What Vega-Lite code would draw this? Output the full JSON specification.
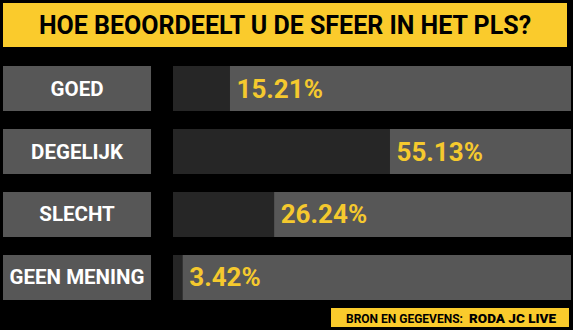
{
  "$schema": "https://vega.github.io/schema/vega-lite/v6.json",
  "background": "#000000",
  "padding": {"left": 3, "top": 3, "right": 2, "bottom": 3},
  "config": {"view": {"stroke": null}},
  "datasets": {
    "poll": [
      {"antwoord": "GOED", "aandeel": 0.1521},
      {"antwoord": "DEGELIJK", "aandeel": 0.5513},
      {"antwoord": "SLECHT", "aandeel": 0.2624},
      {"antwoord": "GEEN MENING", "aandeel": 0.0342}
    ],
    "kop": [{"titel": "HOE BEOORDEELT U DE SFEER IN HET PLS?"}],
    "bron": [{"bron": "BRON EN GEGEVENS:", "naam": "RODA JC LIVE"}]
  },
  "spacing": 8,
  "vconcat": [
    {
      "spacing": 19,
      "vconcat": [
        {
          "width": 564,
          "height": 44,
          "view": {"fill": "#FACB2C", "stroke": null},
          "data": {"name": "kop"},
          "mark": {"type": "text", "font": "Roboto", "fontSize": 25, "fontWeight": "bold", "color": "#000000", "align": "center", "baseline": "middle", "dy": 1},
          "encoding": {"text": {"field": "titel"}}
        },
        {
          "width": 568,
          "height": 234,
          "data": {"name": "poll"},
          "encoding": {
            "y": {"field": "antwoord", "type": "nominal", "sort": null, "axis": null, "scale": {"paddingInner": 0.2857, "paddingOuter": 0}}
          },
          "layer": [
            {
              "mark": {"type": "bar", "color": "#575757"},
              "encoding": {
                "x": {"datum": -0.4142, "type": "quantitative", "axis": null, "scale": {"domain": [-0.4142, 1.003], "nice": false, "zero": false}},
                "x2": {"datum": -0.0449}
              }
            },
            {
              "mark": {"type": "text", "font": "Roboto", "fontSize": 20.5, "fontWeight": "bold", "color": "#FFFFFF", "align": "center", "baseline": "middle", "dy": 1},
              "encoding": {
                "x": {"datum": -0.2295, "type": "quantitative"},
                "text": {"field": "antwoord"}
              }
            },
            {
              "mark": {"type": "bar", "color": "#575757"},
              "encoding": {
                "x": {"datum": 0.01, "type": "quantitative"},
                "x2": {"datum": 1.003}
              }
            },
            {
              "mark": {"type": "bar", "color": "#262626"},
              "encoding": {
                "x": {"field": "aandeel", "type": "quantitative"},
                "x2": {"datum": 0.01}
              }
            },
            {
              "mark": {"type": "text", "font": "Roboto", "fontSize": 26, "fontWeight": "bold", "color": "#F5C92E", "align": "left", "baseline": "middle", "dx": 6.5, "dy": 1},
              "encoding": {
                "x": {"field": "aandeel", "type": "quantitative"},
                "text": {"field": "aandeel", "type": "quantitative", "format": ".2%"}
              }
            }
          ]
        }
      ]
    },
    {
      "width": 568,
      "height": 19,
      "data": {"name": "bron"},
      "layer": [
        {
          "mark": {"type": "rect", "color": "#FACB2C"},
          "encoding": {
            "x": {"datum": 0.4042, "type": "quantitative", "axis": null, "scale": {"domain": [-0.4142, 1.003], "nice": false, "zero": false}},
            "x2": {"datum": 0.998}
          }
        },
        {
          "mark": {"type": "text", "font": "Roboto", "fontSize": 12, "fontWeight": "bold", "color": "#000000", "align": "left", "baseline": "middle", "dy": 1},
          "encoding": {
            "x": {"datum": 0.4416, "type": "quantitative"},
            "text": {"field": "bron"}
          }
        },
        {
          "mark": {"type": "text", "font": "Roboto", "fontSize": 13.5, "fontWeight": 900, "color": "#000000", "align": "right", "baseline": "middle", "dy": 1},
          "encoding": {
            "x": {"datum": 0.9656, "type": "quantitative"},
            "text": {"field": "naam"}
          }
        }
      ]
    }
  ]
}
